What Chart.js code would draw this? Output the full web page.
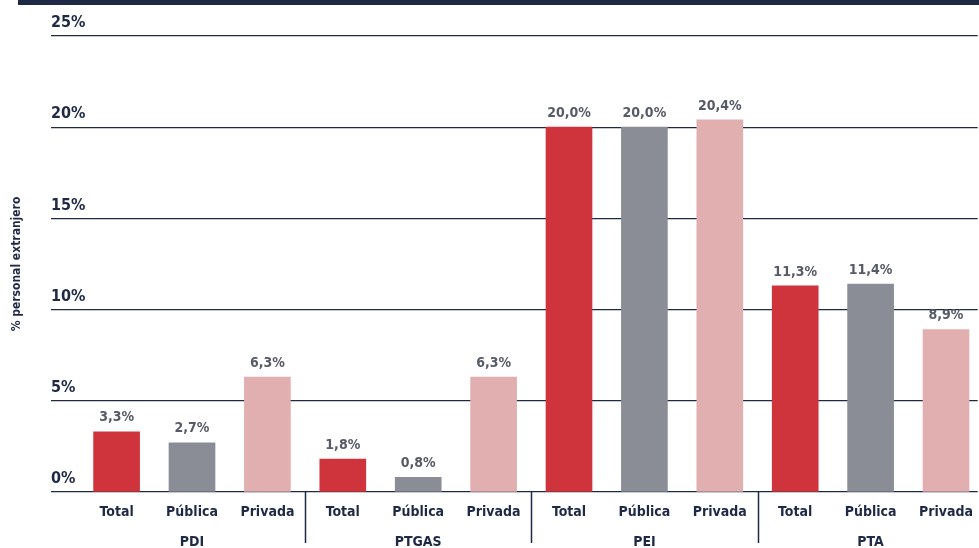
<!DOCTYPE html>
<html>
<head>
<meta charset="utf-8">
<script src="https://cdn.jsdelivr.net/npm/chart.js@4.4.1/dist/chart.umd.min.js"></script>
<style>
  html, body { margin: 0; padding: 0; background: #fff; overflow: hidden; }
  #wrap { position: relative; width: 979px; height: 548px; }
  #band { position: absolute; left: 18px; top: 0; width: 961px; height: 5px; background: #1e2a45; }
</style>
</head>
<body>
<div id="wrap">
  <canvas id="chart" width="979" height="548"></canvas>
  <div id="band"></div>
</div>
<script>
const groups = ['PDI', 'PTGAS', 'PEI', 'PTA']
const types = ['Total', 'Pública', 'Privada']
const pdi = [3.3, 2.7, 6.3]
const ptgas = [1.8, 0.8, 6.3]
const pei = [20.0, 20.0, 20.4]
const pta = [11.3, 11.4, 8.9]
const yTicks = [0, 5, 10, 15, 20, 25]

const NAVY = '#1e2a45'
const FONT = "'Liberation Sans Narrow', 'DejaVu Sans Condensed', 'Liberation Sans', sans-serif"
const typeColors = ['#cf343c', '#8a8d95', '#e2afb0']

// one bar per (group, type), laid out on a linear x scale by index
const values = [].concat(pdi, ptgas, pei, pta)
const points = values.map((v, i) => ({ x: i, y: v }))
const barColors = values.map((v, i) => typeColors[i % 3])

const valueLabels = {
  id: 'valueLabels',
  afterDatasetsDraw(chart) {
    const ctx = chart.ctx
    const meta = chart.getDatasetMeta(0)
    ctx.save()
    ctx.font = 'bold 14px ' + FONT
    ctx.fillStyle = '#575b67'
    ctx.textAlign = 'center'
    ctx.textBaseline = 'bottom'
    meta.data.forEach((bar, i) => {
      const txt = values[i].toFixed(1).replace('.', ',') + '%'
      ctx.fillText(txt, bar.x, bar.y - 7)
    })
    ctx.restore()
  }
}

// vertical dividers between the groups, below the axis
const groupDividers = {
  id: 'groupDividers',
  afterDraw(chart) {
    const ctx = chart.ctx
    const xs = chart.scales.x
    const bottom = chart.chartArea.bottom
    ctx.save()
    ctx.strokeStyle = NAVY
    ctx.lineWidth = 1.5
    for (let g = 1; g < groups.length; g++) {
      const px = Math.round(xs.getPixelForValue(g * 3 - 0.5)) + 0.5
      ctx.beginPath()
      ctx.moveTo(px, bottom)
      ctx.lineTo(px, bottom + 51)
      ctx.stroke()
    }
    ctx.restore()
  }
}

new Chart(document.getElementById('chart'), {
  type: 'bar',
  data: {
    datasets: [{
      data: points,
      backgroundColor: barColors,
      borderWidth: 0,
      barThickness: 46
    }]
  },
  plugins: [valueLabels, groupDividers],
  options: {
    responsive: false,
    animation: false,
    layout: { padding: { top: 36, left: 0, right: 0, bottom: 0 } },
    plugins: {
      legend: { display: false },
      tooltip: { enabled: false }
    },
    scales: {
      x: {
        type: 'linear',
        offset: false,
        min: -0.87,
        max: 11.42,
        afterBuildTicks(scale) {
          scale.ticks = values.map((v, i) => ({ value: i }))
        },
        afterFit(scale) {
          scale.height = 56
        },
        grid: { display: false, drawTicks: false },
        border: { display: false },
        ticks: {
          padding: 6,
          autoSkip: false,
          maxRotation: 0,
          color: NAVY,
          font: { family: FONT, size: 14, weight: 'bold', lineHeight: 2.1 },
          callback(value) {
            const i = Math.round(value)
            const t = types[i % 3]
            if (i % 3 === 1) return [t, groups[Math.floor(i / 3)]]
            return t
          }
        }
      },
      y: {
        min: 0,
        max: 25,
        afterBuildTicks(scale) {
          scale.ticks = yTicks.map(v => ({ value: v }))
        },
        afterFit(scale) {
          scale.width = 51
        },
        grid: { color: NAVY, lineWidth: 1.3, drawTicks: false },
        border: { display: false },
        ticks: {
          mirror: true,
          padding: 0,
          labelOffset: -13,
          color: NAVY,
          font: { family: FONT, size: 16, weight: 'bold' },
          callback: v => v + '%'
        },
        title: {
          display: true,
          text: '% personal extranjero',
          color: NAVY,
          font: { family: FONT, size: 12, weight: 'bold' },
          padding: { top: 10, bottom: 0 }
        }
      }
    }
  }
})
</script>
</body>
</html>
